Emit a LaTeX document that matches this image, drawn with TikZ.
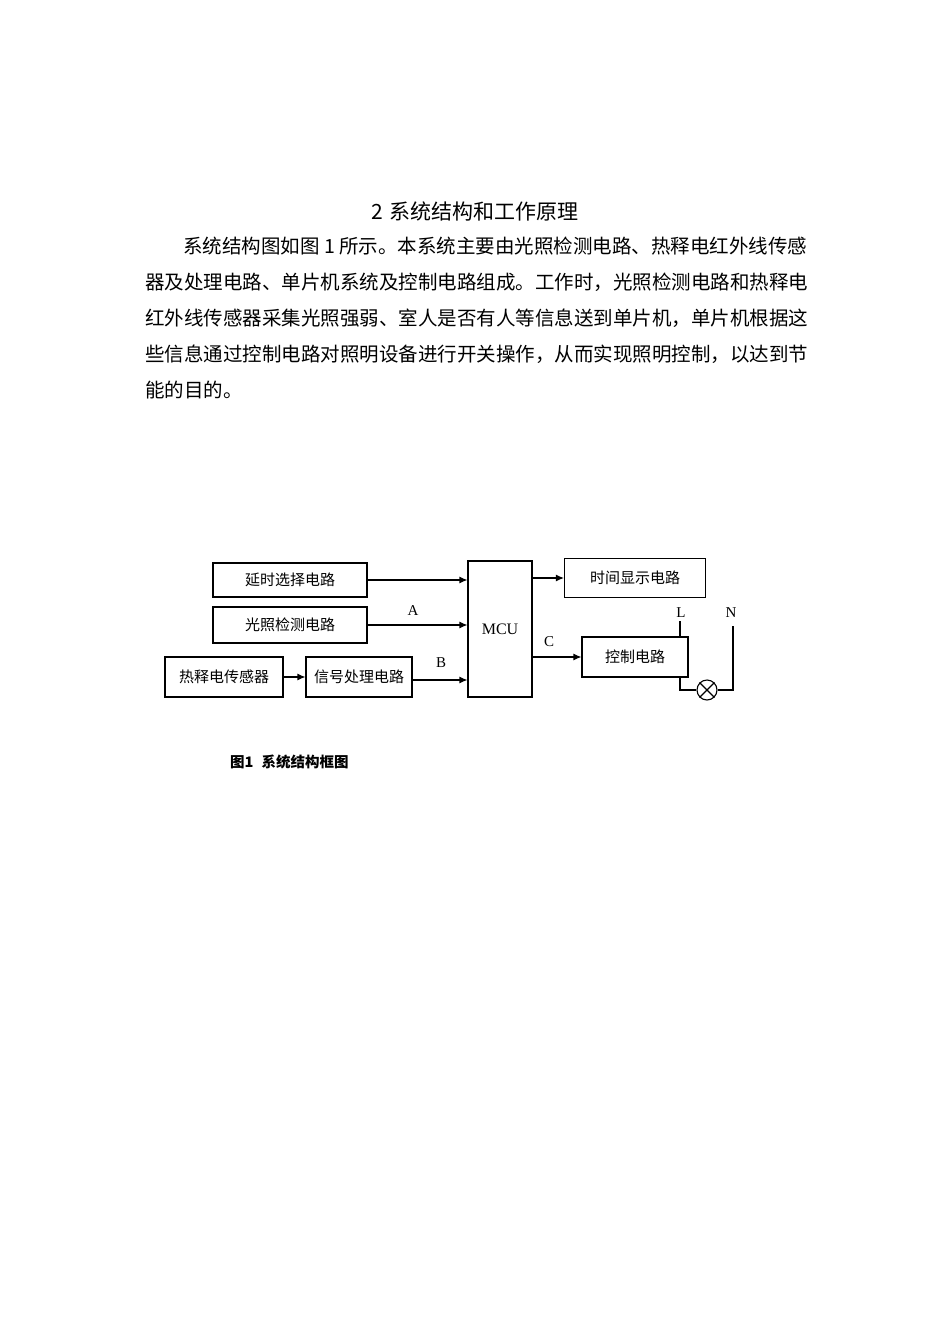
\documentclass[tikz,border=0pt]{standalone}
\usepackage{fontspec}
\setmainfont{Liberation Serif}
\newfontfamily\cjk{Noto Sans CJK SC}
\usetikzlibrary{arrows.meta}
\begin{document}
\begin{tikzpicture}[x=1pt,y=-1pt,
 blk/.style={draw,line width=1.1pt,minimum height=0pt,inner sep=0pt,font=\cjk\fontsize{15}{15}\selectfont},
 arr/.style={line width=1.1pt,-{Latex[length=8pt,width=7pt]}},
 wire/.style={line width=1.1pt},
 lbl/.style={font=\fontsize{15}{15}\selectfont},
 para/.style={anchor=base west,inner sep=0pt,font=\cjk\fontsize{19.5}{19.5}\selectfont}]
\useasboundingbox[fill=white] (0,0) rectangle (950,1344);
\node[anchor=base,inner sep=0pt,font=\cjk\fontsize{21}{21}\selectfont] (title) at (475,219) {2\hspace{6pt}系统结构和工作原理};
\node[para] (p1) at (183,253) {系统结构图如图 1 所示。本系统主要由光照检测电路、热释电红外线传感};
\node[para] (p2) at (145,289) {器及处理电路、单片机系统及控制电路组成。工作时，光照检测电路和热释电};
\node[para] (p3) at (145,325) {红外线传感器采集光照强弱、室人是否有人等信息送到单片机，单片机根据这};
\node[para] (p4) at (145,361) {些信息通过控制电路对照明设备进行开关操作，从而实现照明控制，以达到节};
\node[para] (p5) at (145,397) {能的目的。};
\node[blk,minimum width=154pt,minimum height=34pt] (b1) at (290,580) {延时选择电路};
\node[blk,minimum width=154pt,minimum height=36pt] (b2) at (290,625) {光照检测电路};
\node[blk,minimum width=118pt,minimum height=40pt] (b3) at (224,677) {热释电传感器};
\node[blk,minimum width=106pt,minimum height=40pt] (b4) at (359,677) {信号处理电路};
\node[blk,minimum width=64pt,minimum height=136pt,font=\fontsize{16}{16}\selectfont] (mcu) at (500,629) {MCU};
\node[blk,minimum width=141pt,minimum height=39pt] (b5) at (635,578) {时间显示电路};
\node[blk,minimum width=106pt,minimum height=40pt] (b6) at (635,657) {控制电路};
\draw[arr] (b1.east) -- (b1.east -| mcu.west);
\draw[arr] (b2.east) -- (b2.east -| mcu.west);
\draw[arr] (b3.east) -- (b4.west);
\draw[arr] (b4.east) ++(0,3) coordinate (bs) -- (bs -| mcu.west);
\draw[arr] (mcu.east |- b5.west) -- (b5.west);
\draw[arr] (mcu.east |- b6.west) -- (b6.west);
\node[lbl] (la) at (413,611) {A};
\node[lbl] (lb) at (441,663) {B};
\node[lbl] (lc) at (549,642) {C};
\node[lbl] (ll) at (681,613) {L};
\node[lbl] (ln) at (731,613) {N};
\node[draw,circle,line width=1.1pt,minimum size=20pt,inner sep=0pt] (lamp) at (707,690) {};
\draw[wire] (lamp.north west) -- (lamp.south east) (lamp.north east) -- (lamp.south west);
\coordinate (lt) at (680,621);
\coordinate (nt) at (733,626);
\draw[wire] (lt) -- (lt |- b6.north);
\draw[wire] (lt |- b6.south) |- (lamp.west);
\draw[wire] (lamp.east) -| (nt);
\node[anchor=base west,inner sep=0pt,font=\cjk\bfseries\fontsize{14.5}{14.5}\selectfont] (cap) at (230,767) {图1\hspace{8pt}系统结构框图};
\end{tikzpicture}
\end{document}
